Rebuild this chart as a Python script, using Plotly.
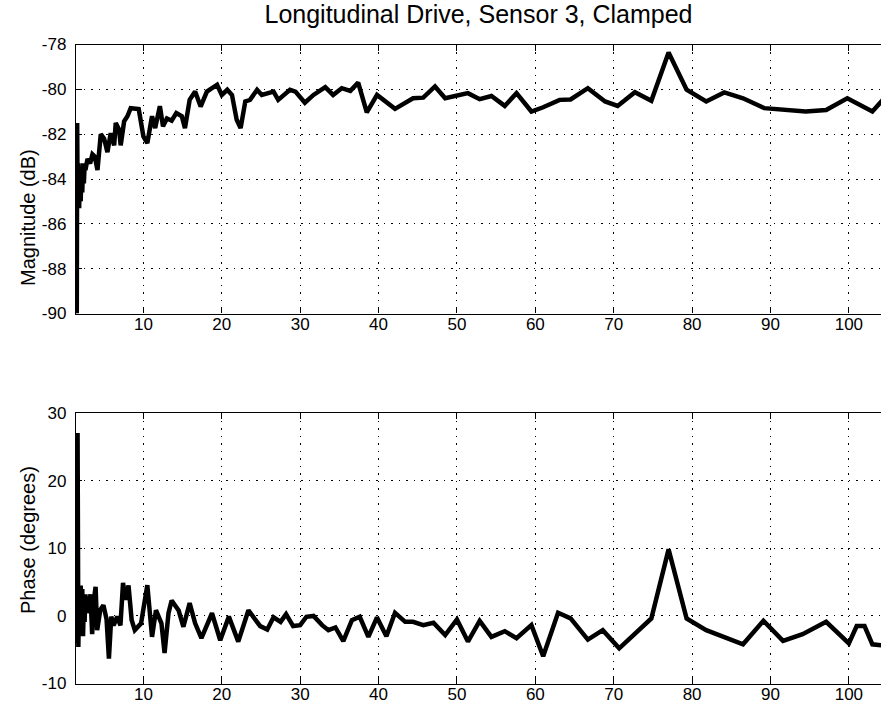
import plotly.graph_objects as go

# ---------------- data ----------------
freq_mag = [1.5, 1.55, 1.6, 1.7, 1.8, 1.9, 2.0, 2.1, 2.2, 2.3, 2.4, 2.5, 2.6,
            2.87, 3.2, 3.5, 3.8, 4.14, 4.56, 4.99, 5.41, 5.83, 6.27, 6.47, 6.9,
            7.1, 7.54, 7.96, 8.38, 9.4, 10.0, 10.5, 11.1, 11.5, 12.1, 12.5, 13.0,
            13.6, 14.2, 14.9, 15.3, 15.9, 16.6, 17.3, 18.1, 18.75, 19.4, 20.0,
            20.7, 21.3, 21.9, 22.4, 23.0, 23.6, 24.5, 25.1, 26.6, 27.2, 28.7,
            29.4, 30.6, 31.7, 33.2, 34.2, 35.3, 36.4, 37.4, 38.5, 39.8, 42.1,
            44.4, 45.7, 47.2, 48.5, 50.0, 51.4, 52.9, 54.4, 56.1, 57.6, 59.5,
            61.0, 63.1, 64.5, 66.7, 68.9, 70.5, 72.7, 74.8, 77.0, 79.3, 81.8,
            84.1, 86.5, 89.2, 91.6, 94.5, 97.1, 99.8, 103.0, 104.5]
mag_db = [-90.0, -81.5, -84.5, -83.3, -85.3, -83.6, -85.0, -83.5, -84.6, -83.3,
          -84.2, -83.4, -83.6, -83.1, -83.3, -82.9, -83.0, -83.6, -82.0, -82.2,
          -82.8, -81.95, -82.5, -81.5, -81.8, -82.5, -81.43, -81.2, -80.84,
          -80.88, -82.1, -82.4, -81.2, -81.73, -80.75, -81.65, -81.3, -81.4,
          -81.06, -81.2, -81.73, -80.47, -80.1, -80.77, -80.1, -79.95, -79.8,
          -80.25, -80.02, -80.25, -81.36, -81.73, -80.54, -80.47, -80.02,
          -80.25, -80.1, -80.47, -80.02, -80.1, -80.6, -80.25, -79.9, -80.25,
          -79.95, -80.07, -79.7, -81.03, -80.25, -80.87, -80.4, -80.37, -79.87,
          -80.4, -80.3, -80.17, -80.44, -80.3, -80.74, -80.17, -80.99, -80.8,
          -80.47, -80.45, -79.95, -80.54, -80.74, -80.13, -80.51, -78.36,
          -80.02, -80.54, -80.14, -80.4, -80.84, -80.92, -80.99, -80.92, -80.4,
          -80.99, -80.4]

freq_phase = [1.5, 1.6, 1.7, 1.8, 1.9, 2.0, 2.1, 2.2, 2.3, 2.4, 2.5, 2.6, 2.8,
              3.0, 3.25, 3.46, 3.7, 3.9, 4.1, 4.5, 4.9, 5.3, 5.6, 5.9, 6.2, 6.65,
              7.07, 7.4, 7.7, 8.1, 8.5, 8.9, 9.7, 10.5, 11.1, 11.6, 12.3, 12.7,
              13.2, 13.6, 14.5, 15.1, 15.9, 16.6, 17.4, 18.75, 19.8, 20.9, 22.1,
              23.4, 24.3, 24.9, 25.8, 26.6, 27.5, 28.2, 29.1, 30.0, 30.8, 31.7,
              32.8, 33.6, 34.5, 35.5, 36.6, 37.6, 38.7, 39.8, 41.0, 42.1, 43.4,
              44.4, 45.7, 47.0, 48.5, 50.0, 51.4, 52.9, 54.4, 56.1, 57.6, 59.5,
              61.0, 62.9, 64.5, 66.7, 68.6, 70.7, 74.8, 77.0, 79.3, 81.8, 86.5,
              89.1, 91.6, 94.1, 97.1, 100.0, 101.0, 102.0, 103.0, 104.5]
phase_deg = [-4.0, 27.1, -4.6, 3.5, -2.5, 4.5, -1.5, 4.0, -3.0, 2.0, -0.9, 3.2,
             0.5, 1.0, 3.2, -2.7, 2.5, 4.3, -2.1, 0.9, 1.6, -0.5, -6.3, -0.1,
             -1.4, -0.1, -1.4, 4.9, 2.4, 4.5, -0.6, -2.1, -1.1, 4.56, -3.1, 0.85,
             -1.1, -5.5, 0.4, 2.3, 0.8, -1.6, 1.9, -1.1, -3.3, 0.4, -3.6, -0.1,
             -3.8, 0.85, -0.6, -1.5, -2.0, -0.2, -0.87, 0.27, -1.5, -1.36, -0.12,
             0.0, -1.36, -2.1, -1.7, -3.73, -0.62, -0.12, -3.1, -0.22, -3.0, 0.47,
             -0.87, -0.87, -1.36, -1.0, -2.84, -0.52, -3.8, -0.72, -3.1, -2.25,
             -3.3, -1.36, -5.96, 0.47, -0.37, -3.5, -2.1, -4.8, -0.37, 9.85,
             -0.37, -2.1, -4.2, -0.72, -3.7, -2.7, -0.87, -4.07, -1.5, -1.5, -4.2,
             -4.4]

x_ticks = [10, 20, 30, 40, 50, 60, 70, 80, 90, 100]
mag_ticks = [-90, -88, -86, -84, -82, -80, -78]
phase_ticks = [-10, 0, 10, 20, 30]

title_text = "Longitudinal Drive, Sensor 3, Clamped"
mag_label = "Magnitude (dB)"
phase_label = "Phase (degrees)"

# ---------------- figure ----------------
W, H = 881, 706
FONT = "Liberation Sans, Arial, Helvetica, sans-serif"

fig = go.Figure()
fig.add_trace(go.Scatter(x=freq_mag, y=mag_db, mode="lines",
                         line=dict(color="black", width=4.5),
                         xaxis="x", yaxis="y", showlegend=False,
                         hoverinfo="skip"))
fig.add_trace(go.Scatter(x=freq_phase, y=phase_deg, mode="lines",
                         line=dict(color="black", width=4.5),
                         xaxis="x2", yaxis="y2", showlegend=False,
                         hoverinfo="skip"))

grid_dash = "1.5px,6px"
xcommon = dict(range=[1.4, 104.1], tickvals=x_ticks,
               ticktext=[str(v) for v in x_ticks],
               showline=True, linecolor="black", linewidth=1.3, mirror="ticks",
               ticks="inside", ticklen=6, tickcolor="black", tickwidth=1.3,
               ticklabelstandoff=-5,
               showgrid=True, gridcolor="black", gridwidth=1, griddash=grid_dash,
               zeroline=False, automargin=False,
               tickfont=dict(family=FONT, size=17, color="black"),
               domain=[76 / W, 1.0])

ycommon = dict(showline=True, linecolor="black", linewidth=1.3, mirror=False,
               ticks="inside", ticklen=6, tickcolor="black", tickwidth=1.3,
               ticklabelstandoff=5,
               showgrid=True, gridcolor="black", gridwidth=1, griddash=grid_dash,
               zeroline=False, automargin=False,
               tickfont=dict(family=FONT, size=17, color="black"))

fig.update_layout(
    width=W, height=H,
    margin=dict(l=0, r=0, t=0, b=0, pad=0),
    paper_bgcolor="white", plot_bgcolor="white",
    xaxis=dict(xcommon, anchor="y"),
    xaxis2=dict(xcommon, anchor="y2"),
    yaxis=dict(ycommon, range=[-90, -78], tickvals=mag_ticks,
               ticktext=[str(v) for v in mag_ticks],
               domain=[1 - 313.5 / H, 1 - 44.5 / H], anchor="x"),
    yaxis2=dict(ycommon, range=[-10, 30], tickvals=phase_ticks,
                ticktext=[str(v) for v in phase_ticks],
                domain=[1 - 683.5 / H, 1 - 413.3 / H], anchor="x2"),
    title=dict(text=title_text, x=478.5 / W, xanchor="center",
               y=1 - 14 / H, yanchor="middle", automargin=False,
               font=dict(family=FONT, size=25, color="black")),
    annotations=[
        dict(text=mag_label, textangle=-90, x=28 / W, y=1 - 218 / H,
             xref="paper", yref="paper", showarrow=False,
             xanchor="center", yanchor="middle",
             font=dict(family=FONT, size=20, color="black")),
        dict(text=phase_label, textangle=-90, x=28 / W, y=1 - 540 / H,
             xref="paper", yref="paper", showarrow=False,
             xanchor="center", yanchor="middle",
             font=dict(family=FONT, size=20, color="black")),
    ],
)

fig.write_html(
    "out.html",
    config={"displayModeBar": False},
    post_script="document.body.style.margin='0';document.body.style.overflow='hidden';",
)
